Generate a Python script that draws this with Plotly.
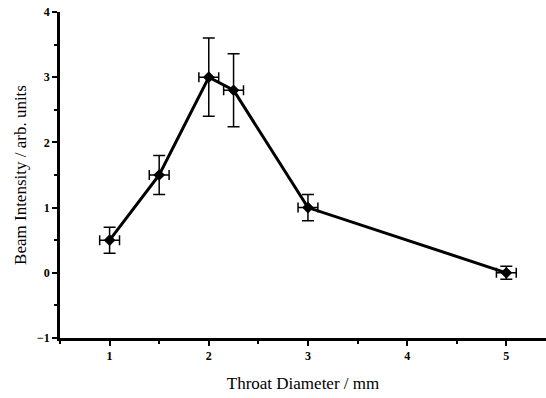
import plotly.graph_objects as go

diameter = [1.0, 1.5, 2.0, 2.25, 3.0, 5.0]
intensity = [0.5, 1.5, 3.0, 2.8, 1.0, 0.0]
y_err = [0.2, 0.3, 0.6, 0.56, 0.2, 0.1]
x_err = [0.1, 0.1, 0.1, 0.1, 0.1, 0.1]

fig = go.Figure()
fig.add_trace(go.Scatter(
    x=diameter, y=intensity,
    mode="lines+markers",
    line=dict(color="black", width=3),
    marker=dict(symbol="diamond", size=9, color="black"),
    error_y=dict(type="data", array=y_err, visible=True, color="black", thickness=1.5, width=6),
    error_x=dict(type="data", array=x_err, visible=True, color="black", thickness=1.5, width=5),
    showlegend=False,
))

font = "Liberation Serif, Times New Roman, serif"
fig.update_layout(
    width=546, height=398,
    margin=dict(l=60, r=0, t=12, b=60),
    plot_bgcolor="white", paper_bgcolor="white",
    font=dict(family=font, color="black"),
)
fig.update_xaxes(
    range=[0.5, 5.4], tickvals=[1, 2, 3, 4, 5],
    ticks="outside", ticklen=5, tickwidth=2, tickcolor="black",
    minor=dict(dtick=0.5, tick0=0.5, ticks="outside", ticklen=3, tickwidth=2, tickcolor="black"),
    showline=True, linecolor="black", linewidth=2.5, showgrid=False, zeroline=False,
    tickfont=dict(family=font, size=12, color="black", weight="bold"),
    title=dict(text="Throat Diameter / mm", font=dict(family=font, size=17), standoff=15),
)
fig.update_yaxes(
    range=[-1, 4], tickvals=[-1, 0, 1, 2, 3, 4],
    ticks="outside", ticklen=5, tickwidth=2, tickcolor="black",
    minor=dict(dtick=0.5, tick0=0.5, ticks="outside", ticklen=3, tickwidth=2, tickcolor="black"),
    showline=True, linecolor="black", linewidth=2.5, showgrid=False, zeroline=False,
    tickfont=dict(family=font, size=12, color="black", weight="bold"),
    title=dict(text="Beam Intensity / arb. units", font=dict(family=font, size=17), standoff=7),
)
fig.write_html("out.html")
